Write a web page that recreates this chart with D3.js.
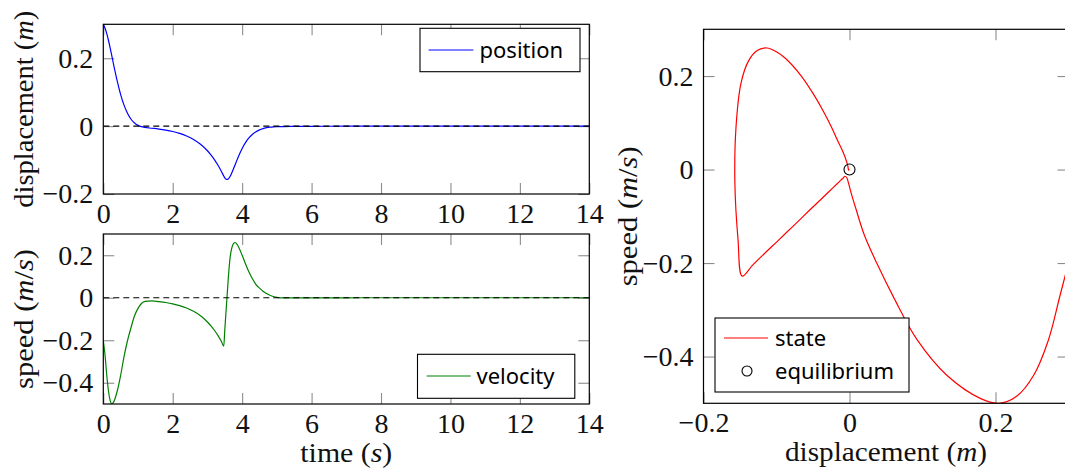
<!DOCTYPE html>
<html>
<head>
<meta charset="utf-8">
<script src="https://cdn.jsdelivr.net/npm/d3@7"></script>
<style>
  body { margin: 0; background: #fff; }
  svg { display: block; }
</style>
</head>
<body>
<svg id="chart" width="1065" height="470"></svg>
<script>
// Sampled response of the controlled oscillator
const time = [0, 0.05, 0.1, 0.15, 0.2, 0.25, 0.3, 0.4, 0.5, 0.6, 0.7, 0.8, 0.9, 1.0, 1.1, 1.2,
  1.4, 1.6, 1.8, 2.0, 2.2, 2.4, 2.6, 2.8, 3.0, 3.1, 3.2, 3.3, 3.4, 3.47, 3.5, 3.55, 3.6, 3.65,
  3.7, 3.75, 3.8, 3.85, 3.9, 4.0, 4.1, 4.2, 4.3, 4.4, 4.5, 4.6, 4.7, 4.8, 4.9, 5.0, 5.2, 5.4,
  5.6, 6.0, 7.0, 8.0, 10.0, 12.0, 14.0];
const position = [0.300, 0.2883, 0.2724, 0.2523, 0.229, 0.2045, 0.1798, 0.1333, 0.093, 0.061,
  0.0373, 0.0203, 0.009, 0.0022, -0.0017, -0.0039, -0.0062, -0.0086, -0.0117, -0.0158, -0.0214,
  -0.029, -0.0392, -0.0534, -0.0725, -0.0846, -0.0985, -0.1147, -0.133, -0.147, -0.1527,
  -0.157, -0.1555, -0.1486, -0.1381, -0.1259, -0.113, -0.1002, -0.0879, -0.066, -0.0481,
  -0.0342, -0.0238, -0.0163, -0.011, -0.0072, -0.0046, -0.003, -0.0021, -0.0017, -0.0013,
  -0.001, -0.0008, -0.0005, -0.0002, -0.0001, 0, 0, 0];
const velocity = [-0.200, -0.270, -0.365, -0.440, -0.485, -0.500, -0.490, -0.440, -0.365,
  -0.275, -0.200, -0.140, -0.085, -0.050, -0.027, -0.017, -0.0143, -0.018, -0.0225, -0.0287,
  -0.037, -0.0485, -0.064, -0.085, -0.114, -0.132, -0.153, -0.177, -0.205, -0.228, -0.150,
  -0.030, 0.090, 0.185, 0.233, 0.255, 0.260, 0.252, 0.238, 0.200, 0.158, 0.120, 0.088, 0.062,
  0.045, 0.031, 0.020, 0.012, 0.006, 0.002, -0.001, -0.001, -0.0008, -0.0005, -0.0002, 0, 0,
  0, 0];
const equilibrium = [[0, 0]];

const timeTicks = [0, 2, 4, 6, 8, 10, 12, 14];
const positionTicks = [-0.2, 0, 0.2];
const velocityTicks = [-0.4, -0.2, 0, 0.2];
const phaseXTicks = [-0.2, 0, 0.2];
const phaseYTicks = [-0.4, -0.2, 0, 0.2];

const svg = d3.select("#chart");
const SERIF = "Liberation Serif";
const SANS = "Noto Sans";
const fmt = d3.format("~g");

// Panels
const xTime = d3.scaleLinear([0, 14], [103.3, 589.3]);
const yPos = d3.scaleLinear([-0.2, 0.3], [194, 24.3]);
const yVel = d3.scaleLinear([-0.5, 0.3], [404, 234]);
const xPhase = d3.scaleLinear([-0.2, 0.3], [703.5, 1068.5]);
const yPhase = d3.scaleLinear([-0.5, 0.3], [403.3, 29.3]);

let clipId = 0;
function panel(x, y, xTicks, yTicks) {
  const g = svg.append("g");
  const [x0, x1] = x.range(), [y0, y1] = y.range();
  const id = "clip" + (clipId++);
  svg.append("clipPath").attr("id", id).append("rect")
    .attr("x", x0).attr("y", y1).attr("width", x1 - x0).attr("height", y0 - y1);

  const tick = 11;
  const axes = [
    [d3.axisBottom(x).tickValues(xTicks).tickSize(-tick).tickPadding(9).tickFormat(fmt), `translate(0,${y0})`],
    [d3.axisTop(x).tickValues(xTicks).tickSize(-tick).tickFormat(() => ""), `translate(0,${y1})`],
    [d3.axisLeft(y).tickValues(yTicks).tickSize(-tick).tickPadding(10).tickFormat(fmt), `translate(${x0},0)`],
    [d3.axisRight(y).tickValues(yTicks).tickSize(-tick).tickFormat(() => ""), `translate(${x1},0)`]
  ];
  axes.forEach(([ax, tr]) => {
    const a = g.append("g").attr("transform", tr).call(ax)
      .attr("font-family", SERIF).attr("font-size", 28);
    a.select(".domain").remove();
    a.selectAll(".tick line").attr("stroke", "#8c8c8c").attr("stroke-width", 1.1);
    a.selectAll(".tick text").attr("fill", "#111");
  });
  const plot = g.append("g").attr("clip-path", `url(#${id})`);
  return { g, plot, frame: () => g.append("rect")
    .attr("x", x0).attr("y", y1).attr("width", x1 - x0).attr("height", y0 - y1)
    .attr("fill", "none").attr("stroke", "#000").attr("stroke-width", 1.2) };
}

function zeroLine(p, x, y) {
  p.plot.append("line")
    .attr("x1", x(0)).attr("x2", x(14)).attr("y1", y(0)).attr("y2", y(0))
    .attr("stroke", "#000").attr("stroke-width", 1.1).attr("stroke-dasharray", "6,4");
}

function legend(g, x, y, w, h, entries) {
  const lg = g.append("g").attr("font-family", SANS).attr("font-size", 22);
  lg.append("rect").attr("x", x).attr("y", y).attr("width", w).attr("height", h)
    .attr("fill", "#fff").attr("stroke", "#000").attr("stroke-width", 1.1);
  entries.forEach(e => {
    if (e.type === "line") {
      lg.append("line").attr("x1", e.lx0).attr("x2", e.lx1).attr("y1", e.y).attr("y2", e.y)
        .attr("stroke", e.color).attr("stroke-width", 1.2);
    } else {
      lg.append("circle").attr("cx", (e.lx0 + e.lx1) / 2).attr("cy", e.y).attr("r", 5)
        .attr("fill", "none").attr("stroke", "#000").attr("stroke-width", 1.1);
    }
    lg.append("text").attr("x", e.tx).attr("y", e.y).attr("dy", "0.36em")
      .attr("fill", "#000").text(e.label);
  });
}

function mathLabel(parts, attrs, length) {
  const t = svg.append("text").attr("font-family", SERIF).attr("font-size", 27)
    .attr("fill", "#111").attr("text-anchor", "middle")
    .attr("textLength", length).attr("lengthAdjust", "spacingAndGlyphs");
  Object.entries(attrs).forEach(([k, v]) => t.attr(k, v));
  parts.forEach(([s, it]) => t.append("tspan").attr("font-style", it ? "italic" : "normal").text(s));
  return t;
}

const idx = d3.range(time.length);

// --- displacement vs time
const pPos = panel(xTime, yPos, timeTicks, positionTicks);
pPos.plot.append("path")
  .attr("d", d3.line().x(i => xTime(time[i])).y(i => yPos(position[i])).curve(d3.curveMonotoneX)(idx))
  .attr("fill", "none").attr("stroke", "#0000ff").attr("stroke-width", 1.2);
zeroLine(pPos, xTime, yPos);
pPos.frame();
legend(pPos.g, 420, 28.3, 160, 43.4, [
  { type: "line", color: "#0000ff", lx0: 428.6, lx1: 473.4, y: 50, tx: 479.5, label: "position" }
]);
mathLabel([["displacement (", 0], ["m", 1], [")", 0]],
  { transform: `translate(33,${(24.3 + 194) / 2}) rotate(-90)` }, 197);

// --- speed vs time
const pVel = panel(xTime, yVel, timeTicks, velocityTicks);
pVel.plot.append("path")
  .attr("d", d3.line().x(i => xTime(time[i])).y(i => yVel(velocity[i])).curve(d3.curveMonotoneX)(idx))
  .attr("fill", "none").attr("stroke", "#008000").attr("stroke-width", 1.2);
zeroLine(pVel, xTime, yVel);
pVel.frame();
legend(pVel.g, 417.5, 354.3, 157.3, 44, [
  { type: "line", color: "#008000", lx0: 426.7, lx1: 470.7, y: 376, tx: 476.5, label: "velocity" }
]);
mathLabel([["speed (", 0], ["m", 1], ["/", 0], ["s", 1], [")", 0]],
  { transform: `translate(33,${(234 + 404) / 2}) rotate(-90)` }, 140);
mathLabel([["time (", 0], ["s", 1], [")", 0]], { x: xTime(7), y: 462 }, 92);

// --- phase portrait
const pPh = panel(xPhase, yPhase, phaseXTicks, phaseYTicks);
pPh.plot.append("path")
  .attr("d", d3.line().x(i => xPhase(position[i])).y(i => yPhase(velocity[i]))
    .curve(d3.curveCatmullRom.alpha(0.5))(idx))
  .attr("fill", "none").attr("stroke", "#ff0000").attr("stroke-width", 1.2);
pPh.plot.selectAll("circle.eq").data(equilibrium).join("circle").attr("class", "eq")
  .attr("cx", d => xPhase(d[0])).attr("cy", d => yPhase(d[1])).attr("r", 5.5)
  .attr("fill", "none").attr("stroke", "#000").attr("stroke-width", 1.1);
pPh.frame();
legend(pPh.g, 715, 318, 194, 74, [
  { type: "line", color: "#ff0000", lx0: 724, lx1: 768, y: 338, tx: 775, label: "state" },
  { type: "mark", lx0: 724, lx1: 770, y: 371, tx: 775, label: "equilibrium" }
]);
mathLabel([["speed (", 0], ["m", 1], ["/", 0], ["s", 1], [")", 0]],
  { transform: `translate(637,${(29.3 + 403.3) / 2}) rotate(-90)` }, 140);
mathLabel([["displacement (", 0], ["m", 1], [")", 0]], { x: xPhase(0.05), y: 461 }, 202);
</script>
</body>
</html>
